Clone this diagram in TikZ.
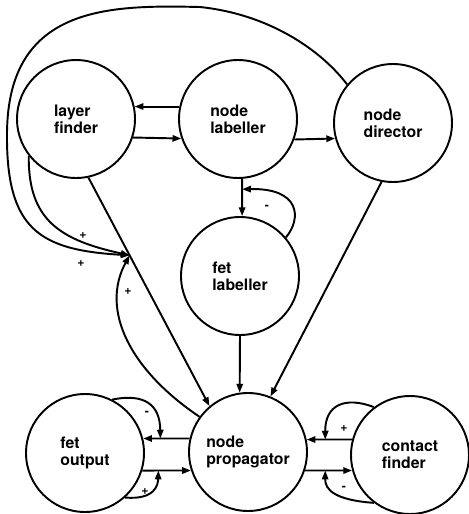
\documentclass[tikz,border=0pt]{standalone}
\usepackage{fontspec}
\setsansfont{TeX Gyre Heros}
\usetikzlibrary{calc,arrows.meta}
\tikzset{
  proc/.style   = {circle, draw, line width=1.1pt, minimum size=2.36cm,
                   inner sep=0pt, align=left,
                   font=\sffamily\bfseries\fontsize{9}{9.6}\selectfont},
  link/.style   = {line width=1.1pt, -{Triangle[length=5pt,width=3.6pt]}},
  sgn/.style    = {font=\sffamily\bfseries\fontsize{7}{7}\selectfont,
                   inner sep=0pt},
}

\begin{document}
\begin{tikzpicture}[x=0.02cm, y=-0.02cm]
  \useasboundingbox (0,0) rectangle (469,514);
  % processes
  \node[proc] (lf) at (76,119)  {layer\\finder};
  \node[proc] (nl) at (238,119) {node\\labeller};
  \node[proc] (nd) at (393,123) {node\\director};
  \node[proc] (fl) at (240,276) {fet\\labeller};
  \node[proc] (fo) at (85,453)  {fet\\output};
  \node[proc] (np) at (248,452) {node\\propagator};
  \node[proc] (cf) at (410,455) {contact\\finder};
  % top row
  \draw[link] (nl.168) -- (lf.12);
  \draw[link] (lf.-18) -- (nl.199);
  \draw[link] (nl.-20) -- (nd.195);
  \draw[link] (nl.-86) -- (fl.88);
  % layer finder to propagator, gated from three sides
  \draw[link] (lf.-78) -- (np.130);
  \coordinate (jn) at ($(lf.-78)!0.34!(np.130)$);
  \draw[link] (lf.218) .. controls (28,220) and (60,240) .. (jn);
  \draw[link] (nd.140) .. controls (325,55) and (275,15) .. (200,7)
    .. controls (110,5) and (8,5) .. (7,133)
    .. controls (6,230) and (40,250) .. (jn);
  \draw[link] (np.144) .. controls (130,370) and (100,310) .. (jn);
  \node[sgn] (s1) at (83,236) {+};
  \node[sgn] (s2) at (81,264) {+};
  \node[sgn] (s3) at (128,292) {+};
  % fet labeller feeds back on its input
  \coordinate (fb) at ($(nl.-86)!0.28!(fl.88)$);
  \draw[link] (fl.40) .. controls (302,218) and (300,188) .. (fb);
  \node[sgn] (s4) at (267,207) {-};
  % into the propagator
  \draw[link] (fl.south) -- (np.98);
  \draw[link] (nd.259) -- (np.68);
  % fet output
  \draw[link] (np.167) -- (fo.14);
  \draw[link] (fo.-17) -- (np.198);
  \coordinate (fa) at ($(np.167)!0.63!(fo.14)$);
  \coordinate (fc) at ($(fo.-17)!0.33!(np.198)$);
  \draw[link] (fo.63) .. controls (145,393) and (160,405) .. (fa);
  \draw[link] (fo.-48) .. controls (155,500) and (158,485) .. (fc);
  \node[sgn] (s5) at (147,413) {-};
  \node[sgn] (s6) at (145,492) {+};
  % contact finder
  \draw[link] (cf.165) -- (np.12);
  \draw[link] (np.-18) -- (cf.195);
  \coordinate (ca) at ($(cf.165)!0.59!(np.12)$);
  \coordinate (cc) at ($(np.-18)!0.43!(cf.195)$);
  \draw[link] (cf.127) .. controls (345,396) and (325,405) .. (ca);
  \draw[link] (cf.233) .. controls (335,500) and (325,490) .. (cc);
  \node[sgn] (s7) at (344,429) {+};
  \node[sgn] (s8) at (344,488) {-};
\end{tikzpicture}
\end{document}
